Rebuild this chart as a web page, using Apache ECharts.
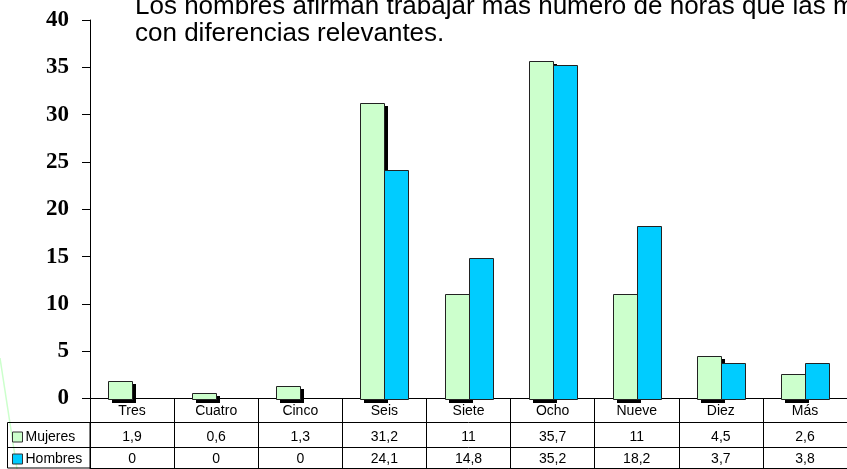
<!DOCTYPE html>
<html>
<head>
<meta charset="utf-8">
<script src="https://cdn.jsdelivr.net/npm/echarts@6/dist/echarts.min.js"></script>
<style>
  html, body { margin: 0; padding: 0; background: #fff; }
  #chart { width: 847px; height: 469px; }
</style>
</head>
<body>
<div id="chart"></div>
<script>
  const categories = ['Tres', 'Cuatro', 'Cinco', 'Seis', 'Siete', 'Ocho', 'Nueve', 'Diez', 'Más'];
  const mujeres = [1.9, 0.6, 1.3, 31.2, 11, 35.7, 11, 4.5, 2.6];
  const hombres = [0, 0, 0, 24.1, 14.8, 35.2, 18.2, 3.7, 3.8];
  const titleText = 'Los hombres afirman trabajar más número de horas que las mujeres,\ncon diferencias relevantes.';

  const sans = 'Liberation Sans, Arial, sans-serif';
  const BAR_W = 24;
  // valores de la tabla con coma decimal
  const fmt = (v) => String(v).replace('.', ',');

  const chart = echarts.init(document.getElementById('chart'));

  // barra dibujada con la escala del eje; side -1 = izquierda, 1 = derecha
  const barRenderer = (side, fill, withShadow) => (params, api) => {
    const idx = api.value(0);
    const val = api.value(1);
    if (!val) return null;
    const top = api.coord([idx, val]);
    const base = api.coord([idx, 0]);
    const x = Math.round(side < 0 ? top[0] - BAR_W : top[0]) + 0.5;
    const y = Math.round(top[1]) + 0.5;
    const h = Math.round(base[1]) - Math.round(top[1]);
    const children = [];
    if (withShadow) {
      children.push({
        type: 'rect',
        shape: { x: x + 3.5, y: y + 2.5, width: BAR_W, height: h + 1 },
        style: { fill: '#000' },
      });
    }
    children.push({
      type: 'rect',
      shape: { x: x, y: y, width: BAR_W, height: h },
      style: { fill: fill, stroke: '#222', lineWidth: 1 },
    });
    return { type: 'group', children: children };
  };

  // ejes inferiores que forman las filas de la tabla de datos
  const tableAxis = (offset, values, margin) => ({
    type: 'category',
    data: categories,
    position: 'bottom',
    offset: offset,
    axisLine: { show: true, lineStyle: { color: '#000', width: 1 } },
    axisTick: { show: false },
    axisLabel: {
      show: !!values,
      interval: 0,
      margin: margin,
      fontFamily: sans,
      fontSize: 14,
      color: '#000',
      formatter: (v, idx) => (values ? fmt(values[idx]) : ''),
    },
  });

  chart.setOption({
    animation: false,
    backgroundColor: '#fff',
    title: {
      text: titleText,
      left: 135,
      top: -7,
      padding: 0,
      textStyle: {
        fontFamily: sans,
        fontSize: 26,
        fontWeight: 'normal',
        lineHeight: 27,
        color: '#000',
      },
    },
    grid: { left: 90, top: 20, width: 760, bottom: 70.5, containLabel: false },
    legend: {
      orient: 'vertical',
      left: 12,
      top: 430,
      itemWidth: 10,
      itemHeight: 10,
      itemGap: 8,
      icon: 'rect',
      padding: 0,
      itemStyle: { borderColor: '#333', borderWidth: 1 },
      textStyle: { fontFamily: sans, fontSize: 14, color: '#000', lineHeight: 14, padding: [0, 0, 0, -2] },
      data: ['Mujeres', 'Hombres'],
    },
    xAxis: [
      {
        type: 'category',
        data: categories,
        position: 'bottom',
        axisLine: { show: true, lineStyle: { color: '#000', width: 1 } },
        axisTick: { show: true, interval: 0, length: 69.5, lineStyle: { color: '#000', width: 1 } },
        axisLabel: { interval: 0, margin: 6, fontFamily: sans, fontSize: 14, color: '#000' },
      },
      tableAxis(24, mujeres, 8),
      tableAxis(48.5, hombres, 5),
      tableAxis(69.5, null, 0),
    ],
    yAxis: {
      type: 'value',
      min: 0,
      max: 40,
      interval: 5,
      splitLine: { show: false },
      axisLine: { show: true, lineStyle: { color: '#000', width: 1 } },
      axisTick: { show: true, length: 8, lineStyle: { color: '#000' } },
      axisLabel: {
        margin: 21,
        fontFamily: 'Liberation Serif, Times New Roman, serif',
        fontWeight: 'bold',
        fontSize: 23,
        color: '#000',
      },
    },
    series: [
      {
        name: 'Mujeres',
        type: 'custom',
        data: mujeres.map((v, i) => [i, v]),
        encode: { x: 0, y: 1 },
        itemStyle: { color: '#CCFFCC' },
        renderItem: barRenderer(-1, '#CCFFCC', true),
      },
      {
        name: 'Hombres',
        type: 'custom',
        data: hombres.map((v, i) => [i, v]),
        encode: { x: 0, y: 1 },
        itemStyle: { color: '#00CCFF' },
        renderItem: barRenderer(1, '#00CCFF', false),
      },
    ],
    graphic: [
      // columna de leyenda de la tabla
      {
        type: 'rect',
        shape: { x: 7.5, y: 422.5, width: 82.5, height: 45.5 },
        style: { fill: 'none', stroke: '#000', lineWidth: 1 },
      },
      {
        type: 'line',
        shape: { x1: 7.5, y1: 447.5, x2: 90, y2: 447.5 },
        style: { stroke: '#000', lineWidth: 1 },
      },
      // línea decorativa de la diapositiva
      {
        type: 'line',
        shape: { x1: 0, y1: 358, x2: 17, y2: 469 },
        style: { stroke: '#CCFFCC', lineWidth: 1.5 },
        z: -1,
      },
    ],
  });
</script>
</body>
</html>
